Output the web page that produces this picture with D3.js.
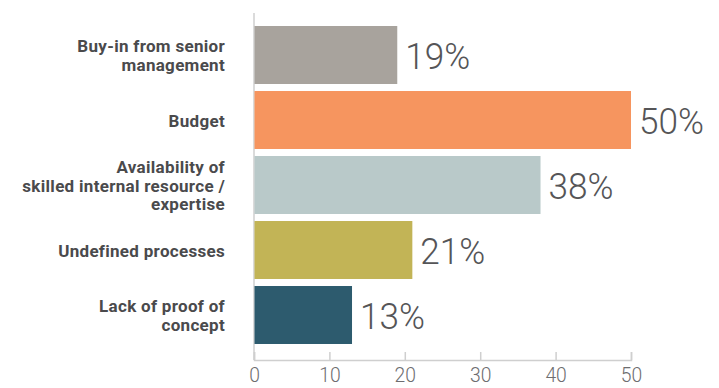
<!DOCTYPE html>
<html>
<head>
<meta charset="utf-8">
<script src="https://cdn.jsdelivr.net/npm/d3@7"></script>
<style>
  html, body { margin: 0; padding: 0; background: #fff; }
  svg { display: block; }
</style>
</head>
<body>
<svg id="chart" width="719" height="388"></svg>
<script>
// Barriers and the share of respondents citing each
const categories = [
  ["Buy-in from senior", "management"],
  ["Budget"],
  ["Availability of", "skilled internal resource /", "expertise"],
  ["Undefined processes"],
  ["Lack of proof of", "concept"]
];
const values = [19, 50, 38, 21, 13];
const colors = ["#a8a39d", "#f6955f", "#b9c9c9", "#c2b456", "#2d5b6e"];
const xTicks = [0, 10, 20, 30, 40, 50];

const svg = d3.select("#chart");
const ids = d3.range(values.length);

const x = d3.scaleLinear().domain([0, 50]).range([254, 631]);
const y = d3.scaleBand().domain(ids).range([22.5, 347.5])
  .paddingInner(0.108).paddingOuter(0.054);

// vertical baseline
svg.append("line")
  .attr("x1", x(0)).attr("x2", x(0))
  .attr("y1", 13).attr("y2", 360)
  .attr("stroke", "#cfcfcf").attr("stroke-width", 1.5);

// bars
svg.selectAll("rect.bar").data(ids).join("rect")
  .attr("class", "bar")
  .attr("x", x(0) + 0.5)
  .attr("y", i => y(i))
  .attr("width", i => x(values[i]) - x(0) - 0.5)
  .attr("height", y.bandwidth())
  .attr("fill", i => colors[i]);

// value labels
svg.selectAll("text.val").data(ids).join("text")
  .attr("class", "val")
  .attr("x", i => x(values[i]) + 8)
  .attr("y", i => y(i) + y.bandwidth() / 2 + 14)
  .attr("font-family", "Roboto")
  .attr("font-weight", 300)
  .attr("font-size", 37)
  .attr("fill", "#555557")
  .attr("transform", i => {
    const px = x(values[i]) + 8;
    return `translate(${px},0) scale(0.95,1) translate(${-px},0)`;
  })
  .text(i => values[i] + "%");

// category labels, one text per line
const lineH = 18.5;
const catLines = ids.flatMap(i => categories[i].map((t, k) => ({ i, k, n: categories[i].length, t })));
svg.selectAll("text.cat").data(catLines).join("text")
  .attr("class", "cat")
  .attr("text-anchor", "end")
  .attr("x", 225)
  .attr("y", d => y(d.i) + y.bandwidth() / 2 - (d.n - 1) * lineH / 2 + 6.5 + d.k * lineH)
  .attr("font-family", "Roboto")
  .attr("font-weight", 700)
  .attr("font-size", 17)
  .attr("letter-spacing", 0.3)
  .attr("fill", "#4a4a4c")
  .text(d => d.t);

// x axis
const axis = svg.append("g")
  .attr("transform", "translate(0,360)")
  .call(d3.axisBottom(x).tickValues(xTicks).tickSize(-8).tickPadding(0).tickFormat(d3.format("d")));
axis.select(".domain").attr("stroke", "#cfcfcf").attr("stroke-width", 1.5);
axis.selectAll(".tick line").attr("stroke", "#cfcfcf").attr("stroke-width", 1.5);
axis.selectAll(".tick text")
  .attr("y", 22.5)
  .attr("dy", null)
  .attr("font-family", "Roboto")
  .attr("font-weight", 300)
  .attr("font-size", 21)
  .attr("fill", "#6d6d6f")
  .attr("transform", "scale(0.92,1)");
</script>
</body>
</html>
